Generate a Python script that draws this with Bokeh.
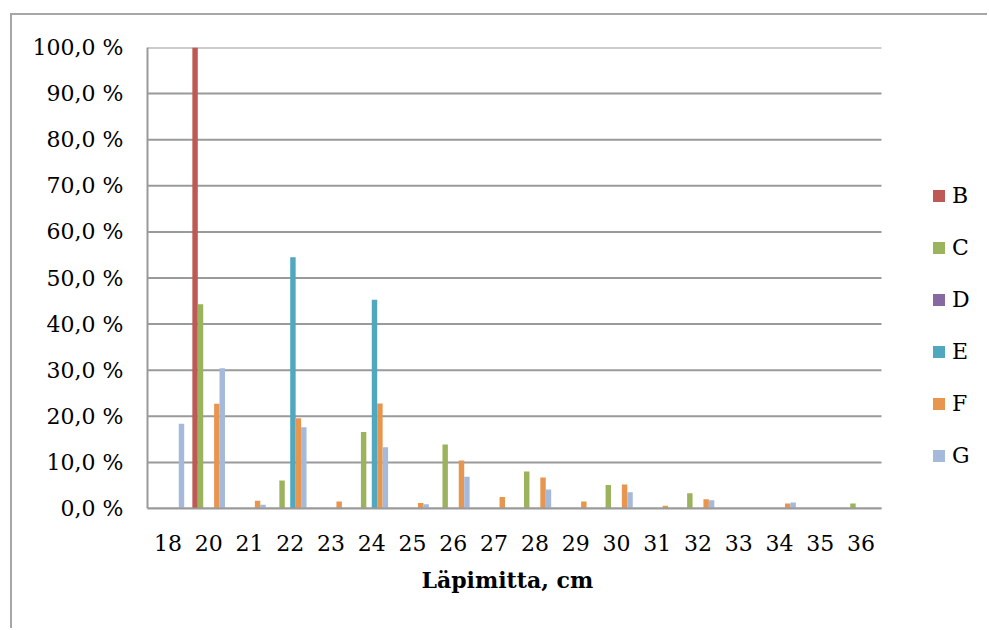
from bokeh.plotting import figure
from bokeh.models import Range1d, FixedTicker, Legend, LegendItem, Title
from bokeh.transform import dodge
from bokeh.embed import file_html
from bokeh.resources import INLINE

# Diameter classes (cm) and share of stems per stand (%)
categories = ["18", "20", "21", "22", "23", "24", "25", "26", "27",
              "28", "29", "30", "31", "32", "33", "34", "35", "36"]
series_names = ["B", "C", "D", "E", "F", "G"]
B = [0, 100.0, 0, 0, 0, 0, 0, 0, 0, 0, 0, 0, 0, 0, 0, 0, 0, 0]
C = [0, 44.3, 0, 6.1, 0, 16.6, 0, 13.9, 0, 8.0, 0, 5.1, 0, 3.3, 0, 0, 0, 1.1]
D = [0] * 18
E = [0, 0, 0, 54.5, 0, 45.3, 0, 0, 0, 0, 0, 0, 0, 0, 0, 0, 0, 0]
F = [0, 22.7, 1.7, 19.6, 1.5, 22.8, 1.2, 10.4, 2.5, 6.7, 1.5, 5.2, 0.6, 2.0, 0, 1.1, 0, 0]
G = [18.4, 30.4, 0.8, 17.6, 0, 13.3, 0.9, 6.9, 0, 4.1, 0, 3.5, 0, 1.8, 0, 1.3, 0, 0]
y_ticks = [0, 10, 20, 30, 40, 50, 60, 70, 80, 90, 100]
y_tick_labels = ["0,0 %", "10,0 %", "20,0 %", "30,0 %", "40,0 %", "50,0 %",
                 "60,0 %", "70,0 %", "80,0 %", "90,0 %", "100,0 %"]
x_title = "Läpimitta, cm"
colors = ["#BD5A55", "#9BB35D", "#8868A0", "#4FA8C0", "#E8964E", "#A5B9DB"]

n_cat = len(categories)
# each class occupies one unit on the x axis, centred on k + 0.5
centers = [k + 0.5 for k in range(n_cat)]
data = dict(pos=centers, B=B, C=C, D=D, E=E, F=F, G=G)

FONT = "DejaVu Serif"
GRID = "#9a9a9a"

PLOT_W, PLOT_H = 977, 615
LEFT, TOP, BOTTOM = 135, 32, 122
CAT_PX = 734 / n_cat                       # pixel width of one class
x_end = (PLOT_W - LEFT) / CAT_PX           # frame runs on to the legend area

p = figure(width=PLOT_W, height=PLOT_H, output_backend="svg", toolbar_location=None,
           x_range=Range1d(0, x_end), y_range=Range1d(0, 100),
           min_border_left=LEFT, min_border_right=0,
           min_border_top=TOP, min_border_bottom=BOTTOM)
p.margin = (13, 0, 0, 10)
p.styles = {"border-left": "2px solid #a6a6a6", "border-top": "2px solid #a6a6a6"}
p.outline_line_color = None
p.background_fill_color = "white"
p.border_fill_color = "white"

# horizontal gridlines only across the bar area
p.xgrid.grid_line_color = None
p.ygrid.grid_line_color = None
p.segment(x0=0, x1=n_cat, y0=y_ticks, y1=y_ticks, line_color=GRID, line_width=2)

# six bars per class, 150 % gap between classes
bar_w = 1 / 7.5
renderers = []
for i, (name, col) in enumerate(zip(series_names, colors)):
    r = p.vbar(x=dodge("pos", (i - 2.5) * bar_w), top=name,
               width=bar_w, source=data, fill_color=col, line_color=None)
    renderers.append(r)

p.yaxis.ticker = FixedTicker(ticks=y_ticks)
p.yaxis.major_label_overrides = {t: lab for t, lab in zip(y_ticks, y_tick_labels)}
p.xaxis.ticker = FixedTicker(ticks=centers)
p.xaxis.major_label_overrides = {c: lab for c, lab in zip(centers, categories)}
p.xaxis.bounds = (0, n_cat)

for ax in (p.xaxis, p.yaxis):
    ax.axis_line_color = GRID
    ax.axis_line_width = 2
    ax.major_tick_line_color = None
    ax.minor_tick_line_color = None
    ax.major_tick_out = 0
    ax.major_tick_in = 0
    ax.major_label_text_font = FONT
    ax.major_label_text_font_size = "22px"
    ax.major_label_text_color = "black"

p.yaxis.major_label_standoff = 24
p.xaxis.major_label_standoff = 26

# axis title, centred under the bar area (not the whole frame)
title = Title(text=x_title, align="left", offset=274, standoff=22,
              text_font=FONT, text_font_style="bold", text_font_size="22px",
              text_color="black")
p.add_layout(title, "below")

legend = Legend(items=[LegendItem(label=n, renderers=[r]) for n, r in zip(series_names, renderers)],
                location=(784, 40), orientation="vertical",
                glyph_width=15, glyph_height=15, label_height=15,
                label_standoff=6, spacing=27, padding=0, margin=0,
                border_line_color=None, background_fill_alpha=0,
                label_text_font=FONT, label_text_font_size="22px",
                label_text_color="black")
p.add_layout(legend, "center")

open("out.html", "w").write(file_html(p, INLINE))
